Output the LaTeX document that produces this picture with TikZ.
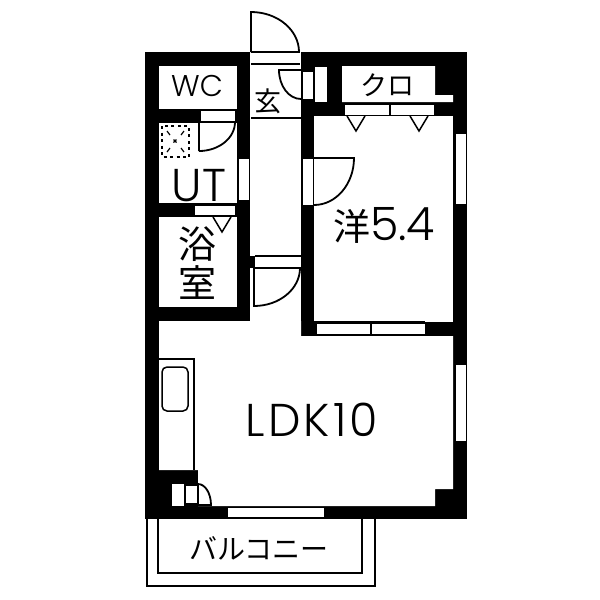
\documentclass[tikz,border=0pt]{standalone}
\usepackage{fontspec}
\setmainfont{Poppins Light}
\newfontfamily\cjk{Noto Sans CJK JP}
\newfontfamily\spaced[LetterSpace=7]{Poppins Light}
\tikzset{
  room/.style={fill=white,draw=none},
  slot/.style={fill=white,draw=black,line width=1pt},
  doorline/.style={draw=black,line width=1.8pt,fill=none},
  thin/.style={draw=black,line width=1.5pt,fill=none},
  label/.style={inner sep=0pt,text=black,font=\fontsize{#1}{#1}\selectfont},
  jlabel/.style={inner sep=0pt,text=black,font=\cjk\fontsize{#1}{#1}\selectfont},
}
\begin{document}
\begin{tikzpicture}[x=1pt,y=-1pt]
\useasboundingbox (0,0) rectangle (600,600);
\fill[white] (0,0) rectangle (600,600);
% outer mass
\fill[black] (145,52) rectangle (467,519);
% rooms
\fill[room] (159,66) rectangle (237,109);
\fill[room] (159,123) rectangle (237,203);
\fill[room] (159,217) rectangle (237,307);
\fill[room] (250,52) rectangle (301,336);
\fill[room] (314,116) rectangle (453,322);
\fill[room] (342,66) -- (435,66) -- (435,95) -- (453,95) -- (453,102) -- (342,102) -- cycle;
\fill[room] (159,321) -- (301,321) -- (301,336) -- (453,336) -- (453,489) -- (435,489) -- (435,506) -- (198,506) -- (198,470) -- (159,470) -- cycle;
\fill[room] (198,470) rectangle (212,506);
% slots
\draw[slot] (200,110) rectangle (235,121);
\draw[slot] (194,205) rectangle (235,215);
\draw[slot] (238,158) rectangle (249,200);
\draw[slot] (302,71) rectangle (313,99);
\draw[slot] (302,158) rectangle (313,205);
\draw[slot] (314,66) rectangle (327,102);
\draw[slot] (344,104) rectangle (389,115);
\draw[slot] (390,104) rectangle (434,115);
\draw[slot] (455,133) rectangle (466,204);
\draw[slot] (316,323) rectangle (370,334);
\draw[slot] (371,323) rectangle (425,334);
\draw[slot] (455,364) rectangle (466,441);
\draw[slot] (227,507) rectangle (324,517);
\draw[slot] (171,483) rectangle (184,506);
\draw[slot] (185,485) rectangle (197,503);
% entrance
\draw[thin] (251,52) -- (300,52);
\draw[thin] (251,64) -- (300,64);
\draw[thin] (251,118) -- (301,118);
\draw[doorline] (251,52) -- (251,12) arc[start angle=-90,end angle=0,x radius=48,y radius=40];
\draw[doorline] (301,70) -- (279,70) arc[start angle=180,end angle=90,x radius=22,y radius=29];
% UT door
\draw[doorline] (199,151) -- (199,122) -- (235,122) arc[start angle=0,end angle=90,x radius=36,y radius=29];
% bedroom door
\draw[doorline] (314,158) -- (354,158) arc[start angle=0,end angle=90,x radius=40,y radius=47];
% corridor door
\fill[black] (250,256) rectangle (255,268);
\draw[thin] (255,256) -- (301,256);
\draw[thin] (255,268) -- (301,268);
\draw[doorline] (254,268) -- (254,306) arc[start angle=90,end angle=0,x radius=46,y radius=38];
% closet triangles
\draw[thin] (347,116) -- (356,131) -- (365,116);
\draw[thin] (410,116) -- (419,131) -- (428,116);
\draw[thin] (213,217) -- (222,232) -- (231,217);
\draw[thin] (314,322) -- (425,322);
% washer
\draw[draw=black,line width=2pt,dash pattern=on 3pt off 3.5pt] (162,126) rectangle (189,157);
\foreach \a/\b/\c/\d in {167/131/170/135, 184/131/181/135, 167/152/170/148, 184/152/181/148}
  \draw[black,line width=1.2pt] (\a,\b) -- (\c,\d);
\draw[black,line width=1.4pt] (173.5,139.5) -- (176.5,142.5) (176.5,139.5) -- (173.5,142.5);
% kitchen
\draw[thin] (159,359) -- (194,359) -- (194,470);
\draw[thin,rounded corners=5pt] (162,367) rectangle (188,411);
% small door by kitchen
\draw[doorline] (198,505) -- (198,484) arc[start angle=-90,end angle=0,x radius=13,y radius=21] -- cycle;
% balcony
\draw[thin] (147,519) -- (147,586) -- (375,586) -- (375,519);
\draw[thin] (158,519) -- (158,573) -- (362,573) -- (362,519);
% texts
\node[label=30] (wc) at (197,86) {WC};
\node[label=46] (ut) at (199,186) {UT};
\node[inner sep=0pt] (ldk) at (312,420) {\spaced\fontsize{46}{46}\selectfont LDK10};
\node[jlabel=27] (gen) at (268,101) {玄};
\node[jlabel=27] (kuro) at (387,85) {クロ};
\node[jlabel=38] (yoku) at (197,244) {浴};
\node[jlabel=38] (shitsu) at (197,283) {室};
\node[anchor=west,inner sep=0pt] (yo) at (333,225) {{\cjk\fontsize{37}{37}\selectfont 洋}{\fontsize{46}{46}\selectfont 5.4}};
\node[jlabel=28] (bal) at (259,548) {バルコニー};
\end{tikzpicture}
\end{document}
